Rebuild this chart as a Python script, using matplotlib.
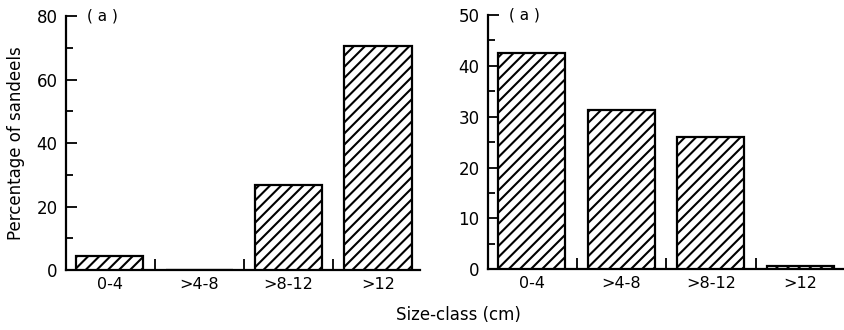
import matplotlib
matplotlib.use("Agg")
import matplotlib.pyplot as plt
import numpy as np

categories = ["0-4", ">4-8", ">8-12", ">12"]
left_values = [4.3, 0.0, 26.8, 70.5]
right_values = [42.5, 31.4, 26.1, 0.65]
left_yticks = [0, 20, 40, 60, 80]
right_yticks = [0, 10, 20, 30, 40, 50]
panel_label = "( a )"
ylabel = "Percentage of sandeels"
xlabel = "Size-class (cm)"

plt.rcParams["font.family"] = ["DejaVu Sans"]
plt.rcParams["hatch.linewidth"] = 1.5

fig = plt.figure(figsize=(8.45, 3.30), dpi=100)
axL = fig.add_axes([0.0781, 0.1818, 0.419, 0.7697])
axR = fig.add_axes([0.5775, 0.184, 0.4225, 0.7705])

def style(ax, values, yticks, ymax, minor_step, xright):
    x = np.arange(len(categories))
    ax.bar(x, values, width=0.75, color="white", edgecolor="black",
           linewidth=1.6, hatch="///", zorder=3)
    ax.set_xlim(-0.49, xright)
    ax.set_ylim(0, ymax)
    for s in ["top", "right"]:
        ax.spines[s].set_visible(False)
    for s in ["left", "bottom"]:
        ax.spines[s].set_linewidth(1.6)
    ax.set_yticks(yticks)
    ax.set_yticks(np.arange(minor_step, ymax, 2 * minor_step), minor=True)
    ax.tick_params(axis="y", which="major", direction="in", length=8,
                   width=1.3, labelsize=12, pad=6)
    ax.tick_params(axis="y", which="minor", direction="in", length=5, width=1.3)
    ax.set_xticks(x)
    ax.set_xticklabels(categories)
    ax.set_xticks(x[:-1] + 0.5, minor=True)
    ax.tick_params(axis="x", which="major", length=0, labelsize=11.5, pad=5)
    ax.tick_params(axis="x", which="minor", direction="in", length=8, width=1.3)
    ax.text(0.06, 1.0, panel_label, transform=ax.transAxes, fontsize=11,
            ha="left", va="center")

style(axL, left_values, left_yticks, 80, 10, 3.47)
style(axR, right_values, right_yticks, 50, 5, 3.5)
axL.set_ylabel(ylabel, fontsize=12, labelpad=8)
fig.text(0.542, 0.045, xlabel, fontsize=12, ha="center", va="center")

fig.savefig("out.png", dpi=100)
